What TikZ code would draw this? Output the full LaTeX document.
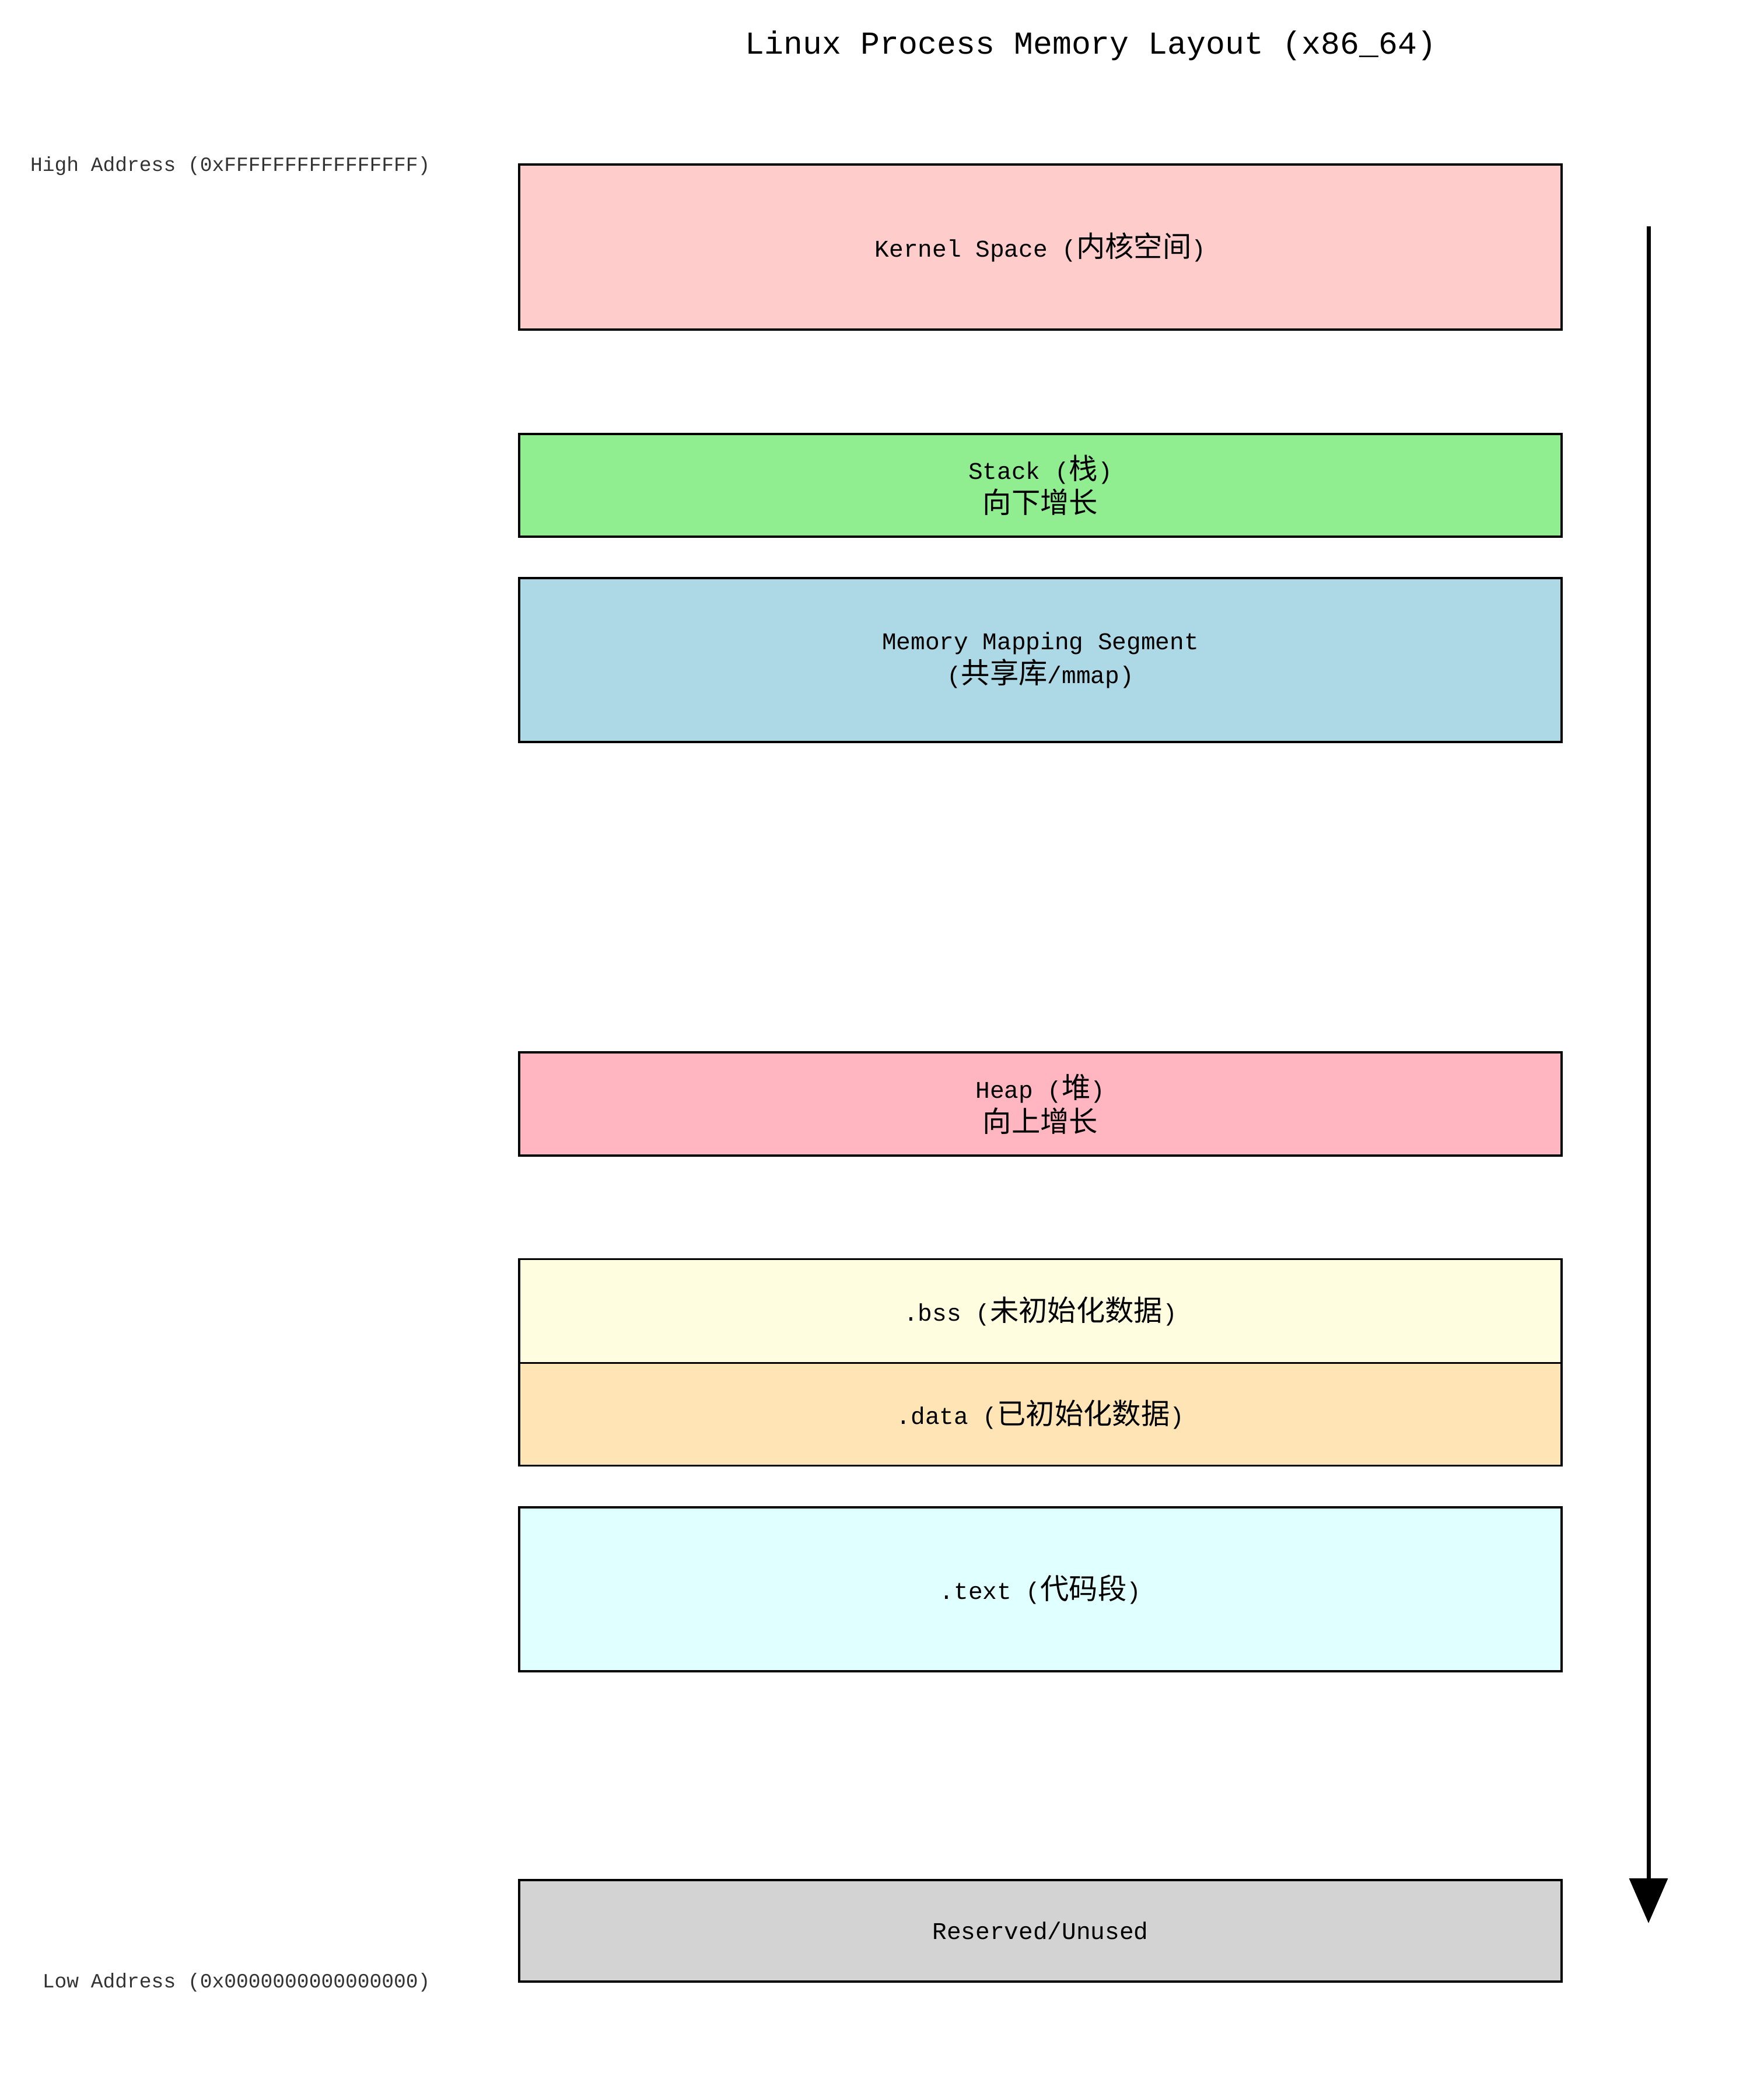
\documentclass[tikz,border=0pt]{standalone}
\usepackage{fontspec}
\setmainfont{Liberation Mono}
\newfontfamily\cjk[Scale=1.2]{Noto Sans CJK SC}
\usepackage{tikz}
\usetikzlibrary{arrows.meta,positioning}
\newcommand{\zh}[1]{{\cjk #1}}

\begin{document}
\begin{tikzpicture}[x=1cm, y=1cm,
    segbox/.style={rectangle, draw=black, line width=1.1pt, minimum width=17.87cm, align=center, inner sep=0pt, font=\fontsize{11.7}{16.5}\selectfont},
    addr/.style={anchor=east, font=\fontsize{9.85}{11}\selectfont, text=black!80}]
    \useasboundingbox (0,0) rectangle (30,-36);
    \node[font=\fontsize{15.6}{18}\selectfont] (title) at (18.7,-0.78) {Linux Process Memory Layout (x86\_64)};
    % address labels
    \node[addr] (high) at (7.50,-2.85) {High Address (0xFFFFFFFFFFFFFFFF)};
    \node[addr] (low) at (7.50,-33.99) {Low Address (0x0000000000000000)};
    % segments, high to low
    \node[segbox, fill={rgb,255:red,255;green,204;blue,204}, minimum height=2.83cm] (kernel) at (17.835,-4.235) {Kernel Space (\zh{内核空间})};
    \node[segbox, fill={rgb,255:red,144;green,238;blue,144}, minimum height=1.76cm] (stack) at (17.835,-8.32) {Stack (\zh{栈})\\\zh{向下增长}};
    \node[segbox, fill={rgb,255:red,173;green,216;blue,230}, minimum height=2.81cm] (mmap) at (17.835,-11.315) {Memory Mapping Segment\\(\zh{共享库}/mmap)};
    \node[segbox, fill={rgb,255:red,255;green,182;blue,193}, minimum height=1.77cm] (heap) at (17.835,-18.925) {Heap (\zh{堆})\\\zh{向上增长}};
    \node[segbox, fill={rgb,255:red,255;green,253;blue,224}, minimum height=1.78cm] (bss) at (17.835,-22.475) {.bss (\zh{未初始化数据})};
    \node[segbox, fill={rgb,255:red,255;green,228;blue,181}, minimum height=1.76cm, below=-1.1pt of bss] (data) {.data (\zh{已初始化数据})};
    \node[segbox, fill={rgb,255:red,224;green,255;blue,255}, minimum height=2.81cm] (text) at (17.835,-27.245) {.text (\zh{代码段})};
    \node[segbox, fill={rgb,255:red,211;green,211;blue,211}, minimum height=1.74cm] (reserved) at (17.835,-33.10) {Reserved/Unused};
    % direction arrow
    \coordinate (top) at (28.26,-3.88);
    \coordinate (bottom) at (28.26,-32.97);
    \draw[-{Triangle[width=0.65cm,length=0.77cm]}, line width=2pt] (top) -- (bottom);
\end{tikzpicture}
\end{document}
